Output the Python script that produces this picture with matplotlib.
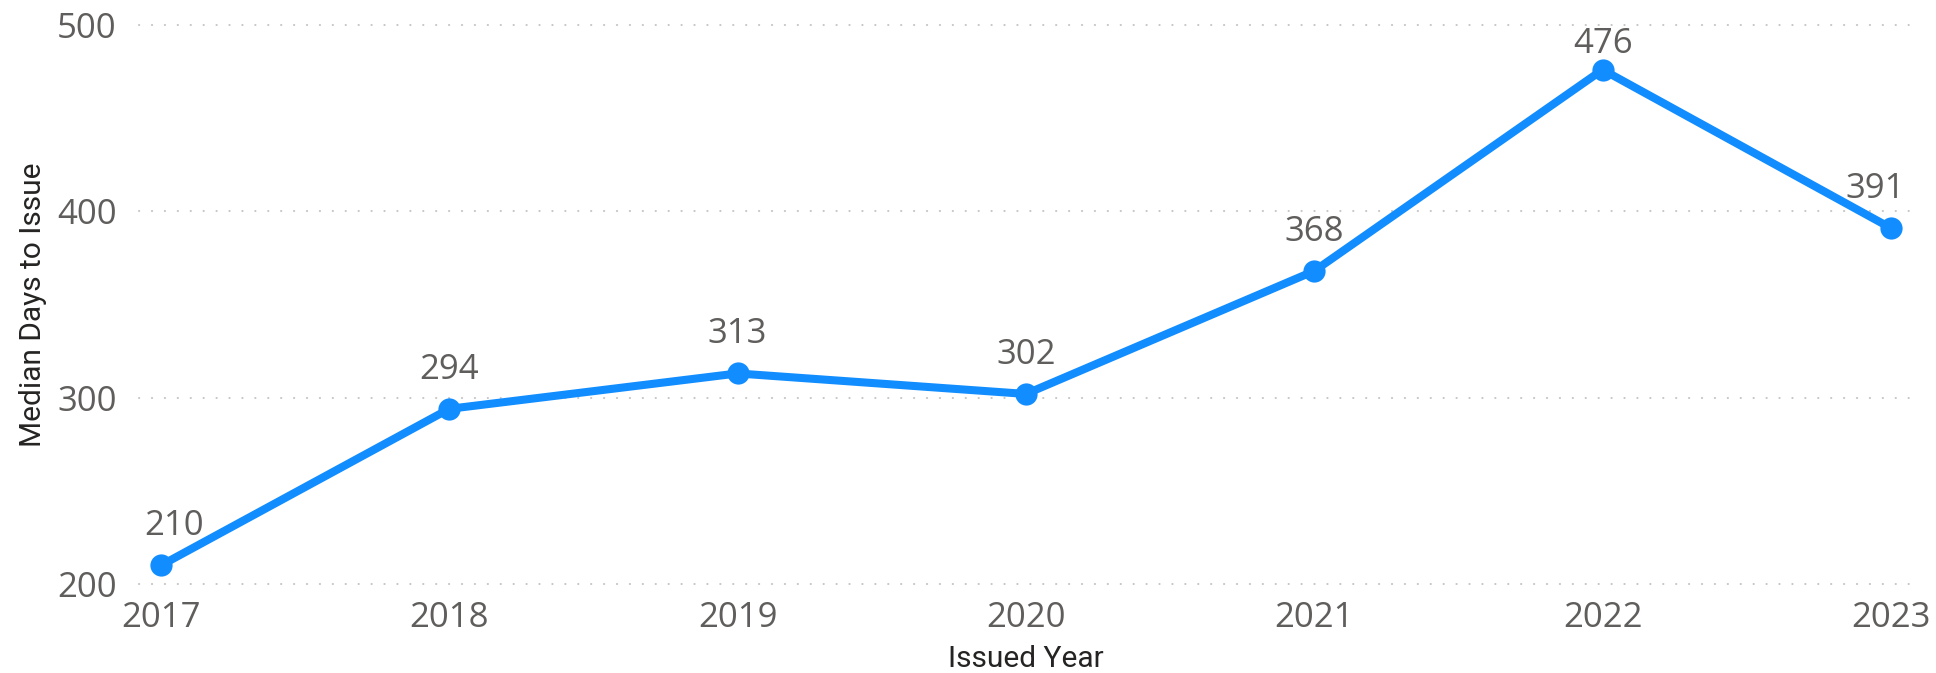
import matplotlib
matplotlib.use("Agg")
import matplotlib.pyplot as plt
import numpy as np

# ---- data ----
years = ["2017", "2018", "2019", "2020", "2021", "2022", "2023"]
median_days = [210, 294, 313, 302, 368, 476, 391]
y_ticks = [200, 300, 400, 500]
x_title = "Issued Year"
y_title = "Median Days to Issue"

LINE_COLOR = "#118DFF"
TICK_COLOR = "#605E5C"
TITLE_COLOR = "#252423"
GRID_COLOR = "#C8C6C4"
DPI = 100

fig = plt.figure(figsize=(19.36, 6.73), dpi=DPI)
W, H = 1936, 673
ax_left, ax_right, ax_top, ax_bottom = 139, 1912, 25, 584
ax = fig.add_axes([ax_left / W, 1 - ax_bottom / H,
                   (ax_right - ax_left) / W, (ax_bottom - ax_top) / H])

x = np.arange(len(years))
ax.set_xlim(-0.076, len(years) - 1 + 0.073)
ax.set_ylim(y_ticks[0], y_ticks[-1])

for s in ax.spines.values():
    s.set_visible(False)

# dotted gridlines
for yv in y_ticks:
    ax.axhline(yv, color=GRID_COLOR, lw=1.5, linestyle=(0, (0.1, 6.1)),
               dash_capstyle="round", clip_on=False, zorder=1)

ax.plot(x, median_days, color=LINE_COLOR, lw=5.8, marker="o", markersize=16,
        markeredgewidth=0, solid_capstyle="round", solid_joinstyle="round",
        clip_on=False, zorder=3)

ax.set_xticks(x)
ax.set_xticklabels(years)
ax.set_yticks(y_ticks)
ax.set_yticklabels([str(t) for t in y_ticks])
ax.tick_params(axis="both", length=0, labelcolor=TICK_COLOR, labelsize=25)
ax.tick_params(axis="x", pad=12.5)
ax.tick_params(axis="y", pad=16)
for lab in ax.get_xticklabels() + ax.get_yticklabels():
    lab.set_family(["Open Sans", "DejaVu Sans"])

# data labels (kept inside plot area like the reference)
top_disp = ax.transData.transform((0, y_ticks[-1]))[1]
left_disp = ax.transData.transform((ax.get_xlim()[0], 0))[0]
right_disp = ax.transData.transform((ax.get_xlim()[1], 0))[0]
for i, v in enumerate(median_days):
    px, py = ax.transData.transform((i, v))
    dy = min(30, top_disp - 4 - 24 - py)
    cx = min(max(px, left_disp + 35), right_disp - 37)
    dx = cx - px
    ax.annotate(str(v), xy=(i, v), xytext=(dx * 72 / DPI, dy * 72 / DPI),
                textcoords="offset points", ha="center", va="baseline",
                fontsize=25, color=TICK_COLOR,
                family=["Open Sans", "DejaVu Sans"], zorder=4,
                annotation_clip=False)

# axis titles
fig.text((ax_left + ax_right) / 2 / W, 1 - 667 / H, x_title,
         ha="center", va="baseline", fontsize=21.5, color=TITLE_COLOR,
         family=["Roboto", "DejaVu Sans"])
fig.text(41 / W, 1 - ((ax_top + ax_bottom) / 2) / H, y_title,
         rotation=90, rotation_mode="anchor", ha="center", va="baseline",
         fontsize=21.5, color=TITLE_COLOR, family=["Roboto", "DejaVu Sans"])

fig.savefig("out.png", dpi=DPI, facecolor="white")
